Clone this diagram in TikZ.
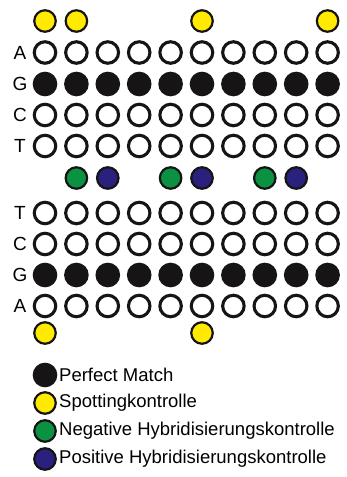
\documentclass[tikz,border=0pt]{standalone}
\usepackage{fontspec}
\setmainfont{Liberation Sans}
\usetikzlibrary{shapes.geometric, positioning, calc}
\definecolor{spotyellow}{RGB}{255,234,0}
\definecolor{neggreen}{RGB}{10,145,65}
\definecolor{posblue}{RGB}{42,32,125}
\definecolor{pmblack}{RGB}{22,20,20}
\begin{document}
\begin{tikzpicture}[x=1pt, y=-1pt]
\tikzset{spot/.style={circle, draw=pmblack, line width=3.1pt, minimum size=21.5pt, inner sep=0pt, fill=white},
  pm/.style={spot, fill=pmblack},
  sk/.style={spot, line width=2.2pt, fill=spotyellow},
  nk/.style={spot, line width=2.2pt, fill=neggreen},
  hk/.style={spot, line width=2.2pt, fill=posblue},
  base/.style={font=\fontsize{19}{22}\selectfont},
  legend/.style={font=\fontsize{18.5}{22}\selectfont, anchor=west, inner sep=0pt}}
\useasboundingbox (0,0) rectangle (346,477);
% spotting controls, top
\foreach \c in {1,2,6,10} \node[sk] (top\c) at ({45+31.4*(\c-1)},21) {};
% upper block
\foreach \b/\y/\s [count=\r] in {A/52.5/spot,G/84/pm,C/115/spot,T/146/spot} {
  \node[base] (lab\r) at (20,\y) {\b};
  \foreach \c in {1,...,10} \node[\s] (u\r c\c) at ({45+31.4*(\c-1)},\y) {};
}
% hybridisation controls
\foreach \c in {2,5,8} \node[nk] (neg\c) at ({45+31.4*(\c-1)},178) {};
\foreach \c in {3,6,9} \node[hk] (pos\c) at ({45+31.4*(\c-1)},178) {};
% lower block
\foreach \b/\y/\s [count=\r] in {T/213/spot,C/244/spot,G/275/pm,A/306/spot} {
  \node[base] (low\r) at (20,\y) {\b};
  \foreach \c in {1,...,10} \node[\s] (l\r c\c) at ({45+31.4*(\c-1)},\y) {};
}
% spotting controls, bottom
\foreach \c in {1,6} \node[sk] (bot\c) at ({45+31.4*(\c-1)},333) {};
% legend
\node[pm] (L1) at (45,375) {}; \node[legend] (T1) at (59,375) {Perfect Match};
\node[sk] (L2) at (45,403) {}; \node[legend] (T2) at (59,403) {Spottingkontrolle};
\node[nk] (L3) at (45,431) {}; \node[legend] (T3) at (59,431) {Negative Hybridisierungskontrolle};
\node[hk] (L4) at (45,459) {}; \node[legend] (T4) at (59,459) {Positive Hybridisierungskontrolle};
\end{tikzpicture}
\end{document}
